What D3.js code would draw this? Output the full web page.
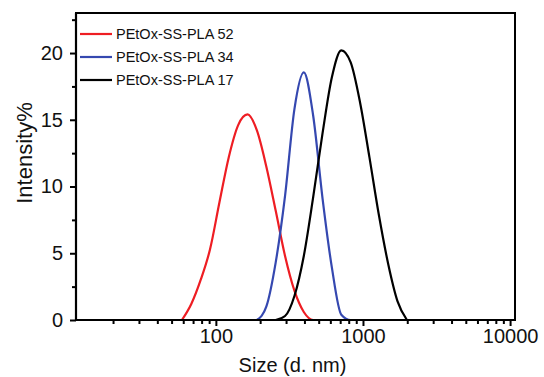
<!DOCTYPE html>
<html>
<head>
<meta charset="utf-8">
<script src="https://cdn.jsdelivr.net/npm/d3@7"></script>
<style>
  body { margin: 0; background: #fff; }
  svg { display: block; font-family: "Liberation Sans", Arial, sans-serif; }
</style>
</head>
<body>
<svg id="chart" width="544" height="377"></svg>
<script>
// Size bins (d. nm) of the DLS measurement.
var sizes = [58.77, 68.06, 78.82, 91.28, 105.7, 122.4, 141.8, 164.2, 190.1, 220.2,
             255.0, 295.3, 342.0, 396.1, 458.7, 531.2, 615.1, 712.4, 825.0, 955.4,
             1106, 1281, 1484, 1718, 1990];

// Intensity% per bin, each series starts at the given bin index.
var pla52 = [0, 1.2, 3.0, 5.3, 8.8, 12.2, 14.6, 15.4, 14.2, 11.5, 8.2, 4.8, 2.2, 0.6, 0, 0, 0, 0];
var pla34 = [0, 1.0, 4.3, 9.3, 15.8, 18.55, 15.3, 9.1, 3.9, 0.4, 0, 0, 0, 0, 0, 0];
var pla17 = [0, 0.3, 1.8, 4.8, 9.2, 14.0, 18.2, 20.2, 19.3, 16.3, 12.2, 7.9, 4.2, 1.4, 0];

var seriesNames = ["PEtOx-SS-PLA 52", "PEtOx-SS-PLA 34", "PEtOx-SS-PLA 17"];
var seriesStart = [0, 8, 10];
var seriesColors = ["#ee1d23", "#3548b0", "#000000"];

var xMajor = [100, 1000, 10000];
var xMinor = [20, 30, 40, 50, 60, 70, 80, 90, 200, 300, 400, 500, 600, 700, 800, 900,
              2000, 3000, 4000, 5000, 6000, 7000, 8000, 9000];
var yMajor = [0, 5, 10, 15, 20];
var yMinor = [2.5, 7.5, 12.5, 17.5, 22.5];

var margin = { top: 13, right: 29, bottom: 57, left: 76 };
var width = 544 - margin.left - margin.right;
var height = 377 - margin.top - margin.bottom;

var svg = d3.select("#chart");
var g = svg.append("g").attr("transform", "translate(" + margin.left + "," + margin.top + ")");

var x = d3.scaleLog().domain([11.2, 10800]).range([0, width]);
var y = d3.scaleLinear().domain([0, 23]).range([height, 0]);

var series = [pla52, pla34, pla17].map(function(vals, i) {
  return {
    name: seriesNames[i],
    color: seriesColors[i],
    points: vals.map(function(v, j) { return { s: sizes[seriesStart[i] + j], v: v }; })
  };
});

// frame
g.append("rect")
  .attr("width", width).attr("height", height)
  .attr("fill", "none").attr("stroke", "#000").attr("stroke-width", 2);

// minor ticks first, then major axes with labels
g.append("g").attr("transform", "translate(0," + height + ")")
  .call(d3.axisBottom(x).tickValues(xMinor).tickSize(4).tickFormat(""))
  .call(function(a) { a.select(".domain").remove(); });
g.append("g").attr("transform", "translate(0," + height + ")")
  .call(d3.axisBottom(x).tickValues(xMajor).tickSize(6).tickPadding(3).tickFormat(d3.format("d")))
  .call(function(a) { a.select(".domain").remove(); });

g.append("g")
  .call(d3.axisLeft(y).tickValues(yMinor).tickSize(4).tickFormat(""))
  .call(function(a) { a.select(".domain").remove(); });
g.append("g")
  .call(d3.axisLeft(y).tickValues(yMajor).tickSize(6).tickPadding(7))
  .call(function(a) { a.select(".domain").remove(); });

g.selectAll(".tick line").attr("stroke", "#000").attr("stroke-width", 2);
g.selectAll(".tick text").attr("fill", "#111").attr("font-size", 20)
  .attr("font-family", "Liberation Sans, Arial, sans-serif");

var line = d3.line()
  .x(function(d) { return x(d.s); })
  .y(function(d) { return y(d.v); })
  .curve(d3.curveMonotoneX);

g.selectAll(".curve")
  .data(series)
  .enter()
  .append("path")
  .attr("class", "curve")
  .attr("fill", "none")
  .attr("stroke", function(d) { return d.color; })
  .attr("stroke-width", 2.2)
  .attr("stroke-linejoin", "round")
  .attr("d", function(d) { return line(d.points); });

// axis lines on top of the curves
g.append("line").attr("x1", 0).attr("x2", width).attr("y1", height).attr("y2", height)
  .attr("stroke", "#000").attr("stroke-width", 2.2);
g.append("line").attr("x1", 0).attr("x2", 0).attr("y1", 0).attr("y2", height)
  .attr("stroke", "#000").attr("stroke-width", 2.2);

// legend
var leg = g.selectAll(".leg")
  .data(series)
  .enter()
  .append("g")
  .attr("class", "leg")
  .attr("transform", function(d, i) { return "translate(4," + (21 + i * 23) + ")"; });
leg.append("line").attr("x1", 0).attr("x2", 32)
  .attr("stroke", function(d) { return d.color; }).attr("stroke-width", 2.2);
leg.append("text").attr("x", 36).attr("dy", "0.35em")
  .attr("font-size", 14.5).attr("fill", "#111")
  .text(function(d) { return d.name; });

// axis titles
svg.append("text")
  .attr("x", margin.left + width / 2 - 3).attr("y", 372)
  .attr("text-anchor", "middle").attr("font-size", 20).attr("fill", "#111")
  .text("Size (d. nm)");
svg.append("text")
  .attr("transform", "translate(32,153) rotate(-90)")
  .attr("text-anchor", "middle").attr("font-size", 22).attr("fill", "#111")
  .text("Intensity%");
</script>
</body>
</html>
